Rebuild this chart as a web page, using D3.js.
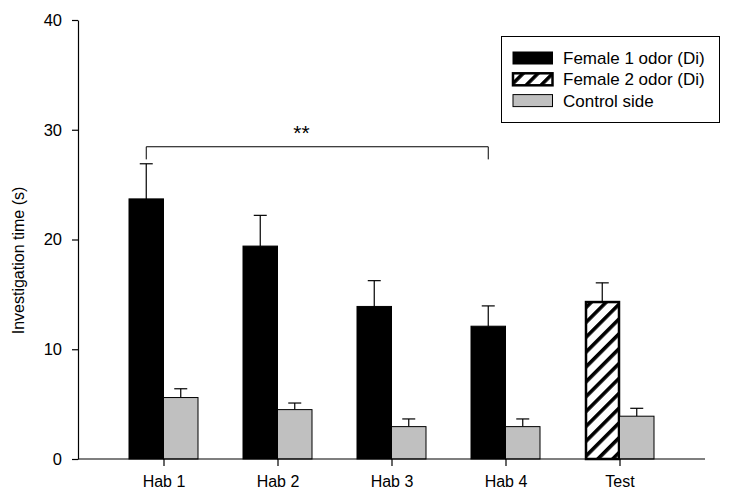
<!DOCTYPE html>
<html>
<head>
<meta charset="utf-8">
<script src="https://cdn.jsdelivr.net/npm/d3@7"></script>
<style>
  html, body { margin: 0; padding: 0; background: #fff; }
  svg { display: block; font-family: "Liberation Sans", Arial, sans-serif; }
</style>
</head>
<body>
<svg id="chart" width="729" height="495"></svg>
<script>
const categories = ["Hab 1", "Hab 2", "Hab 3", "Hab 4", "Test"];
const odorMeans = [23.7, 19.4, 13.9, 12.1, 14.3];
const odorSEM = [3.2, 2.8, 2.35, 1.85, 1.75];
const odorType = ["f1", "f1", "f1", "f1", "f2"];
const controlMeans = [5.6, 4.5, 2.95, 2.95, 3.9];
const controlSEM = [0.8, 0.6, 0.7, 0.7, 0.72];
const yTicks = [0, 10, 20, 30, 40];
const legendLabels = ["Female 1 odor (Di)", "Female 2 odor (Di)", "Control side"];
const sigLabel = "**";
const sigFrom = "Hab 1", sigTo = "Hab 4";
const sigLevel = 28.45, sigDrop = 1.15;

const svg = d3.select("#chart");
const x = d3.scalePoint().domain(categories).range([78, 705]).padding(0.75);
const y = d3.scaleLinear().domain([0, 40]).range([459, 20]);
const bw = 34.5;

const defs = svg.append("defs");
const P = 10.5;
const pat = defs.append("pattern").attr("id", "hatch").attr("patternUnits", "userSpaceOnUse")
  .attr("width", P).attr("height", P).attr("patternTransform", "rotate(45)");
pat.append("rect").attr("width", P).attr("height", P).attr("fill", "#fff");
pat.append("line").attr("x1", 0).attr("y1", 0).attr("x2", 0).attr("y2", P)
  .attr("stroke", "#000").attr("stroke-width", 7.2);

const data = categories.map((c, i) => ({c, om: odorMeans[i], os: odorSEM[i], t: odorType[i], cm: controlMeans[i], cs: controlSEM[i]}));

function errBar(g, cx, top, sem) {
  g.append("line").attr("x1", cx).attr("x2", cx).attr("y1", y(top)).attr("y2", y(top + sem)).attr("stroke", "#000").attr("stroke-width", 1.2);
  g.append("line").attr("x1", cx - 6.5).attr("x2", cx + 6.5).attr("y1", y(top + sem)).attr("y2", y(top + sem)).attr("stroke", "#000").attr("stroke-width", 1.2);
}
const g = svg.append("g");
data.forEach(d => {
  const cx = x(d.c);
  errBar(g, cx - bw / 2, d.om, d.os);
  errBar(g, cx + bw / 2, d.cm, d.cs);
  if (d.t === "f1") {
    g.append("rect").attr("x", cx - bw).attr("y", y(d.om)).attr("width", bw).attr("height", y(0) - y(d.om)).attr("fill", "#000").attr("stroke", "#000").attr("stroke-width", 1);
  } else {
    g.append("rect").attr("x", cx - bw + 1).attr("y", y(d.om)).attr("width", bw - 1.5).attr("height", y(0) - y(d.om)).attr("fill", "url(#hatch)").attr("stroke", "#000").attr("stroke-width", 2.5);
  }
  g.append("rect").attr("x", cx).attr("y", y(d.cm)).attr("width", bw).attr("height", y(0) - y(d.cm)).attr("fill", "#c0c0c0").attr("stroke", "#000").attr("stroke-width", 1);
});

// axes
const yAxis = svg.append("g").attr("transform", "translate(78,0)")
  .call(d3.axisLeft(y).tickValues(yTicks).tickSize(6).tickSizeOuter(0).tickPadding(10));
const xAxis = svg.append("g").attr("transform", "translate(0,459)")
  .call(d3.axisBottom(x).tickSize(7).tickSizeOuter(0).tickPadding(10));
xAxis.select(".domain").attr("d", "M78,0H705");
[yAxis, xAxis].forEach(a => {
  a.selectAll("path,line").attr("stroke", "#000").attr("stroke-width", 1.2);
  a.selectAll("text").attr("font-family", "Liberation Sans, Arial, sans-serif").attr("fill", "#000");
});
yAxis.selectAll("text").attr("font-size", 16.5);
xAxis.selectAll("text").attr("font-size", 16);

svg.append("text").attr("transform", "translate(24,260.5) rotate(-90)").attr("text-anchor", "middle")
  .attr("font-size", 16).attr("fill", "#000").text("Investigation time (s)");

// significance bracket
const x1 = x(sigFrom) - bw / 2, x2 = x(sigTo) - bw / 2;
svg.append("path").attr("d", `M${x1},${y(sigLevel - sigDrop)}V${y(sigLevel)}H${x2}V${y(sigLevel - sigDrop)}`)
  .attr("fill", "none").attr("stroke", "#000").attr("stroke-width", 1);
svg.append("text").attr("x", 301.5).attr("y", 140).attr("text-anchor", "middle")
  .attr("font-size", 21).attr("fill", "#000").text(sigLabel);

// legend
const lg = svg.append("g");
lg.append("rect").attr("x", 501.5).attr("y", 36.5).attr("width", 218).attr("height", 86).attr("fill", "#fff").attr("stroke", "#000").attr("stroke-width", 1);
const fills = ["#000", "url(#hatch)", "#c0c0c0"];
legendLabels.forEach((t, i) => {
  const yy = 52 + i * 21.3;
  lg.append("rect").attr("x", 513).attr("y", yy).attr("width", 39.5).attr("height", 12)
    .attr("fill", fills[i]).attr("stroke", "#000").attr("stroke-width", i === 1 ? 2.5 : 1);
  lg.append("text").attr("x", 563).attr("y", yy + 12).attr("font-size", 17).attr("fill", "#000").text(t);
});
</script>
</body>
</html>
